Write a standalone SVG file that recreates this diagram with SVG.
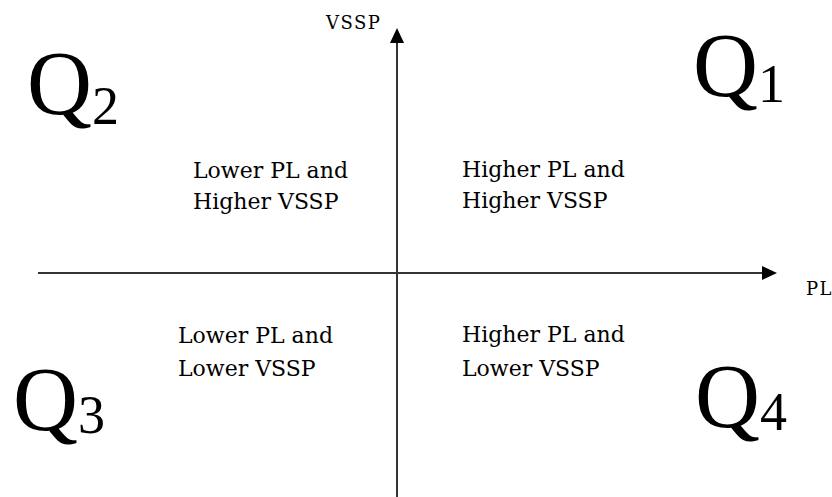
<svg xmlns="http://www.w3.org/2000/svg" width="832" height="497" viewBox="0 0 832 497">
<defs>
<style>
.ax{stroke:#333;stroke-width:2;fill:none}
.lbl{font-family:"DejaVu Serif","Liberation Serif",serif;font-size:22px;fill:#000}
.axl{font-family:"DejaVu Serif","Liberation Serif",serif;font-size:18px;letter-spacing:1.5px;fill:#000}
.q{font-family:"Liberation Serif","Times New Roman",serif;font-size:90px;fill:#000}
.qs{font-size:54px}
</style>
</defs>
<rect width="832" height="497" fill="#fff"/>
<g id="connectors">
<line class="ax" x1="397" y1="497" x2="397" y2="40"/>
<polygon points="397,28 390,43 404,43" fill="#000"/>
<line class="ax" x1="38" y1="273" x2="764" y2="273"/>
<polygon points="777,273 762,266 762,280" fill="#000"/>
</g>
<g id="axis-vssp"><text class="axl" x="326" y="29">VSSP</text></g>
<g id="axis-pl"><text class="axl" x="806" y="295">PL</text></g>
<g id="q1"><text class="q" x="693" y="96">Q<tspan class="qs" dy="6">1</tspan></text></g>
<g id="q2"><text class="q" x="27" y="114">Q<tspan class="qs" dy="10">2</tspan></text></g>
<g id="q3"><text class="q" x="13" y="430">Q<tspan class="qs" dy="3">3</tspan></text></g>
<g id="q4"><text class="q" x="695" y="427">Q<tspan class="qs" dy="3">4</tspan></text></g>
<g id="tl"><text class="lbl" x="193" y="178">Lower PL and</text><text class="lbl" x="193" y="209">Higher VSSP</text></g>
<g id="tr"><text class="lbl" x="462" y="177">Higher PL and</text><text class="lbl" x="462" y="208">Higher VSSP</text></g>
<g id="bl"><text class="lbl" x="178" y="343">Lower PL and</text><text class="lbl" x="178" y="376">Lower VSSP</text></g>
<g id="br"><text class="lbl" x="462" y="342">Higher PL and</text><text class="lbl" x="462" y="376">Lower VSSP</text></g>
</svg>
